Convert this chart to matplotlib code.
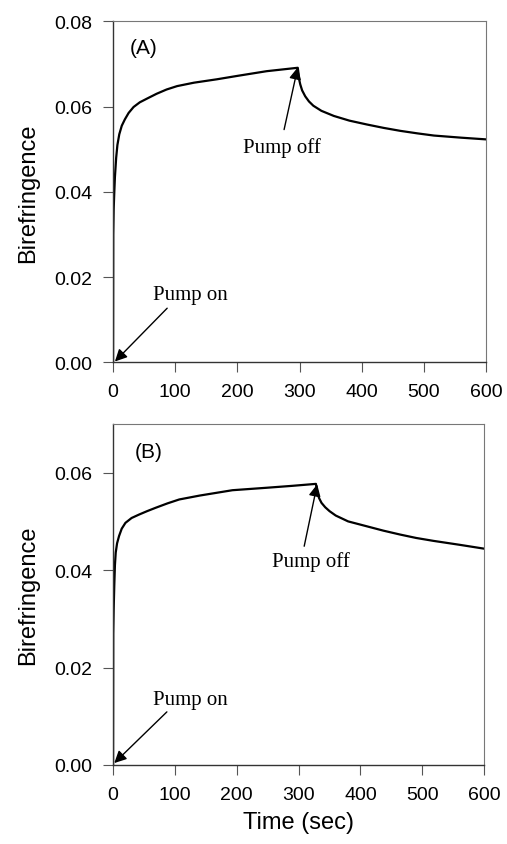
import numpy as np
import matplotlib.pyplot as plt

# panel (A) curve
t_a = [0, 0.3, 1, 2, 3, 5, 7, 10, 14, 19, 25, 33, 43, 55, 70, 86, 103, 130, 167, 200, 247, 297,
       298, 299, 301, 304, 309, 315, 322, 335, 355, 380, 408, 435, 462, 490, 516, 560, 600]
b_a = [0, 0.030, 0.036, 0.040, 0.0435, 0.048, 0.051, 0.0535, 0.0555, 0.057, 0.0585, 0.0599,
       0.061, 0.0619, 0.063, 0.064, 0.0648, 0.0656, 0.0664, 0.0672, 0.0683, 0.0691,
       0.068, 0.0665, 0.0652, 0.0638, 0.0624, 0.0612, 0.0602, 0.059, 0.0578, 0.0567, 0.0558,
       0.055, 0.0543, 0.0537, 0.0532, 0.0527, 0.0523]

# panel (B) curve
t_b = [0, 0.3, 1, 2, 3, 4.3, 6.5, 9.7, 14, 20, 30, 42, 55, 69, 88, 107, 140, 193, 248, 290, 328,
       329, 330.5, 333, 337, 343, 350, 360, 380, 410, 437, 464, 490, 518, 560, 600]
b_b = [0, 0.027, 0.032, 0.037, 0.041, 0.0436, 0.0455, 0.047, 0.0485, 0.0497, 0.0507, 0.0514,
       0.0521, 0.0528, 0.0537, 0.0545, 0.0553, 0.0564, 0.0569, 0.0573, 0.0577,
       0.0568, 0.0558, 0.0548, 0.0538, 0.0529, 0.0521, 0.0512, 0.05, 0.049, 0.0481, 0.0473,
       0.0466, 0.046, 0.0452, 0.0444]

xticks = [0, 100, 200, 300, 400, 500, 600]

fig = plt.figure(figsize=(5.07, 8.45), dpi=100)
ax1 = fig.add_axes([0.223, 0.570, 0.736, 0.4036])
ax2 = fig.add_axes([0.223, 0.0935, 0.732, 0.4036])

sans = ['Liberation Sans', 'DejaVu Sans']
serif = ['Liberation Serif', 'DejaVu Serif']

def style(ax, ymax, yticks):
    ax.set_xlim(0, 600)
    ax.set_ylim(0, ymax)
    ax.set_xticks(xticks)
    ax.set_yticks(yticks)
    ax.set_xticklabels([str(v) for v in xticks], family=sans, fontsize=14)
    ax.set_yticklabels(['%.2f' % v for v in yticks], family=sans, fontsize=14)
    ax.tick_params(direction='out', length=7, width=0.8, color='#555555', pad=8)
    for s in ['left', 'bottom']:
        ax.spines[s].set_color('#333333')
        ax.spines[s].set_linewidth(1.0)
    for s in ['top', 'right']:
        ax.spines[s].set_color('#777777')
        ax.spines[s].set_linewidth(0.8)
    ax.set_ylabel('Birefringence', family=sans, fontsize=17, labelpad=11)

arrow = dict(arrowstyle='-|>', lw=1.0, color='k', mutation_scale=18, shrinkA=0, shrinkB=0)

# (A)
ax1.plot(t_a, b_a, color='k', lw=1.6)
style(ax1, 0.08, [0, 0.02, 0.04, 0.06, 0.08])
ax1.text(0.046, 0.924, '(A)', transform=ax1.transAxes, family=sans, fontsize=15, va='center')
ax1.annotate('', xy=(297, 0.0692), xytext=(275, 0.0546), arrowprops=arrow)
ax1.text(271, 0.0506, 'Pump off', family=serif, fontsize=15, ha='center', va='center')
ax1.annotate('', xy=(3, 0.0002), xytext=(87, 0.0127), arrowprops=arrow)
ax1.text(125, 0.0158, 'Pump on', family=serif, fontsize=15, ha='center', va='center')

# (B)
ax2.plot(t_b, b_b, color='k', lw=1.6)
style(ax2, 0.07, [0, 0.02, 0.04, 0.06])
ax2.text(0.059, 0.918, '(B)', transform=ax2.transAxes, family=sans, fontsize=15, va='center')
ax2.annotate('', xy=(330, 0.0576), xytext=(309, 0.0449), arrowprops=arrow)
ax2.text(320, 0.0418, 'Pump off', family=serif, fontsize=15, ha='center', va='center')
ax2.annotate('', xy=(2, 0.0004), xytext=(87, 0.0109), arrowprops=arrow)
ax2.text(125, 0.0135, 'Pump on', family=serif, fontsize=15, ha='center', va='center')
ax2.set_xlabel('Time (sec)', family=sans, fontsize=17, labelpad=6)

plt.savefig('out.png', dpi=100)
